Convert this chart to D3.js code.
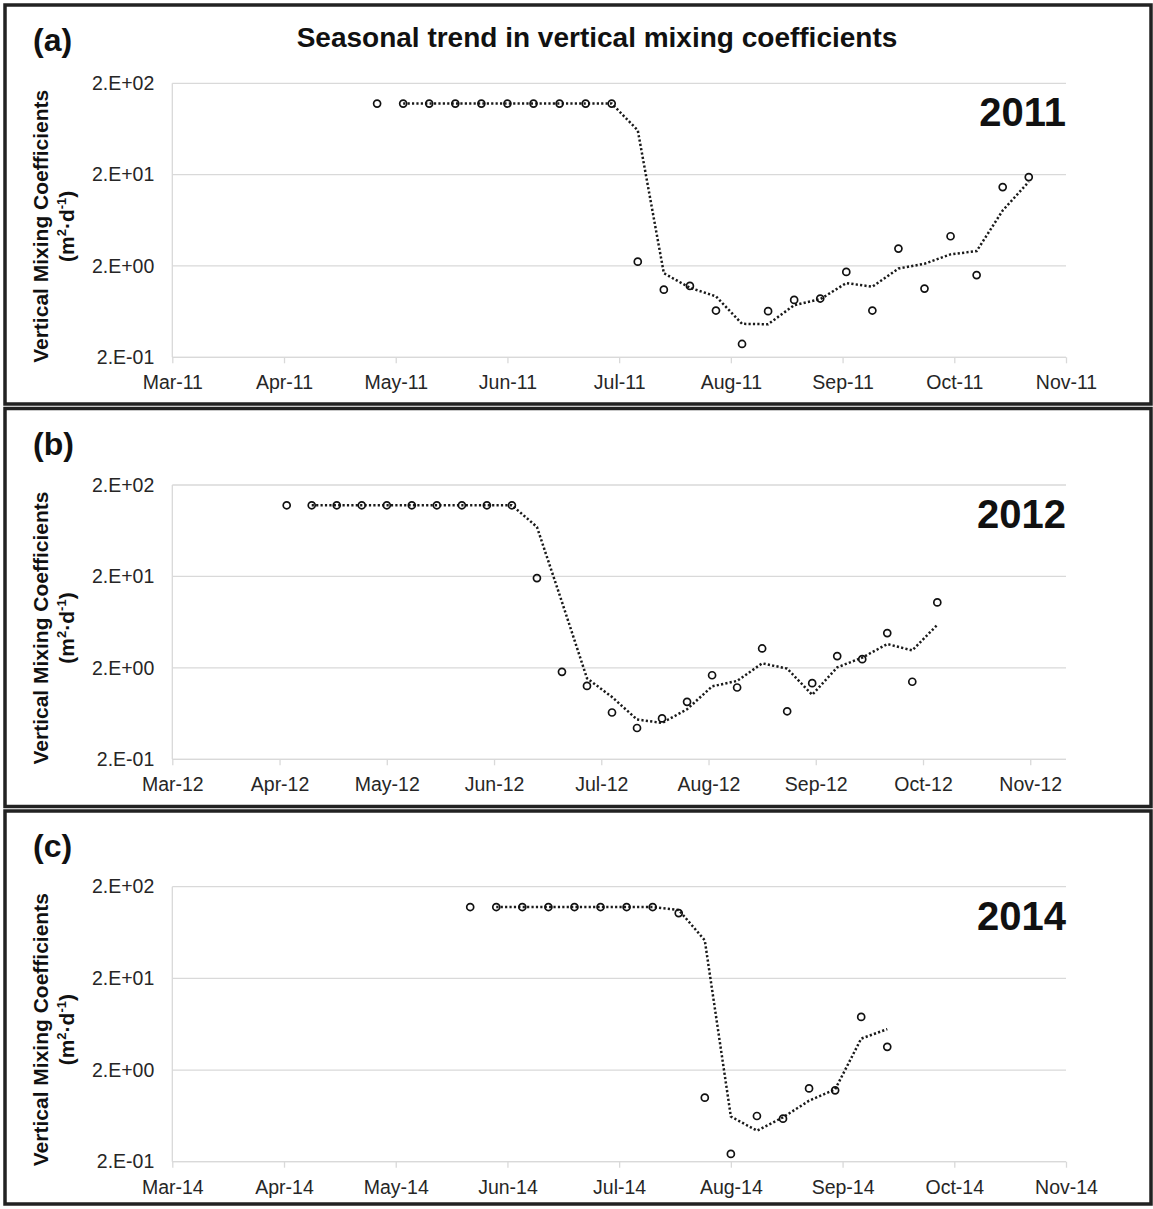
<!DOCTYPE html>
<html>
<head>
<meta charset="utf-8">
<script src="https://cdn.jsdelivr.net/npm/d3@7"></script>
<style>
  html, body { margin: 0; padding: 0; background: #fff; }
  svg { display: block; font-family: "Liberation Sans", Arial, sans-serif; }
</style>
</head>
<body>
<svg id="chart" width="1153" height="1209"></svg>
<script>
// Weekly vertical mixing coefficients (m2/d) for three seasons
const dates2011 = ["2011-04-30","2011-05-07","2011-05-14","2011-05-21","2011-05-28","2011-06-04","2011-06-11","2011-06-18","2011-06-25","2011-07-02","2011-07-09","2011-07-16","2011-07-23","2011-07-30","2011-08-06","2011-08-13","2011-08-20","2011-08-27","2011-09-03","2011-09-10","2011-09-17","2011-09-24","2011-10-01","2011-10-08","2011-10-15","2011-10-22"];
const kz2011 = [120,120,120,120,120,120,120,120,120,120,2.23,1.10,1.21,0.65,0.28,0.64,0.85,0.88,1.72,0.65,3.1,1.13,4.23,1.59,14.6,18.8];

const dates2012 = ["2012-04-07","2012-04-14","2012-04-21","2012-04-28","2012-05-05","2012-05-12","2012-05-19","2012-05-26","2012-06-02","2012-06-09","2012-06-16","2012-06-23","2012-06-30","2012-07-07","2012-07-14","2012-07-21","2012-07-28","2012-08-04","2012-08-11","2012-08-18","2012-08-25","2012-09-01","2012-09-08","2012-09-15","2012-09-22","2012-09-29","2012-10-06"];
const kz2012 = [120,120,120,120,120,120,120,120,120,120,19.2,1.81,1.27,0.65,0.44,0.56,0.85,1.66,1.22,3.26,0.67,1.36,2.69,2.49,4.8,1.41,10.4];

const dates2014 = ["2014-05-25","2014-06-01","2014-06-08","2014-06-15","2014-06-22","2014-06-29","2014-07-06","2014-07-13","2014-07-20","2014-07-27","2014-08-03","2014-08-10","2014-08-17","2014-08-24","2014-08-31","2014-09-07","2014-09-14"];
const kz2014 = [120,120,120,120,120,120,120,120,103,1.0,0.243,0.63,0.59,1.26,1.2,7.6,3.58];

// Date axis: start date, 30-day major unit, labels
const axisStart2011 = "2011-03-06", axisDays2011 = 240;
const axisStart2012 = "2012-03-06", axisDays2012 = 250;
const axisStart2014 = "2014-03-06", axisDays2014 = 240;
const xTickLabels2011 = ["Mar-11","Apr-11","May-11","Jun-11","Jul-11","Aug-11","Sep-11","Oct-11","Nov-11"];
const xTickLabels2012 = ["Mar-12","Apr-12","May-12","Jun-12","Jul-12","Aug-12","Sep-12","Oct-12","Nov-12"];
const xTickLabels2014 = ["Mar-14","Apr-14","May-14","Jun-14","Jul-14","Aug-14","Sep-14","Oct-14","Nov-14"];

const yTickValues = [0.2, 2, 20, 200];
const yTickLabels = ["2.E-01","2.E+00","2.E+01","2.E+02"];

const panelLetters = ["(a)","(b)","(c)"];
const yearLabels = ["2011","2012","2014"];
const chartTitle = "Seasonal trend in vertical mixing coefficients";

const parse = d3.utcParse("%Y-%m-%d");
const svg = d3.select("#chart");

const panels = [
  { dates: dates2011, values: kz2011, start: axisStart2011, days: axisDays2011, xLabels: xTickLabels2011,
    box: [5, 5, 1146, 399], plotTop: 83.3, plotBottom: 357.3 },
  { dates: dates2012, values: kz2012, start: axisStart2012, days: axisDays2012, xLabels: xTickLabels2012,
    box: [5, 408.5, 1146, 398], plotTop: 485, plotBottom: 759.3 },
  { dates: dates2014, values: kz2014, start: axisStart2014, days: axisDays2014, xLabels: xTickLabels2014,
    box: [5, 811, 1146, 393], plotTop: 886.7, plotBottom: 1161.7 }
];

const plotLeft = 172.3, plotRight = 1066;
const gridColor = "#d9d9d9";
const textColor = "#262626";

panels.forEach((p, i) => {
  const g = svg.append("g");

  // panel frame
  g.append("rect")
    .attr("x", p.box[0]).attr("y", p.box[1])
    .attr("width", p.box[2]).attr("height", p.box[3])
    .attr("fill", "none").attr("stroke", "#222").attr("stroke-width", 3.5);

  const d0 = parse(p.start);
  const x = d3.scaleUtc()
    .domain([d0, d3.utcDay.offset(d0, p.days)])
    .range([plotLeft, plotRight]);
  const y = d3.scaleLog()
    .domain([0.2, 200])
    .range([p.plotBottom, p.plotTop]);

  // horizontal gridlines
  g.append("g").selectAll("line").data(yTickValues).join("line")
    .attr("x1", plotLeft).attr("x2", plotRight)
    .attr("y1", d => y(d)).attr("y2", d => y(d))
    .attr("stroke", gridColor).attr("stroke-width", 1.3);

  // left axis line
  g.append("line")
    .attr("x1", plotLeft).attr("x2", plotLeft)
    .attr("y1", y(200)).attr("y2", y(0.2))
    .attr("stroke", gridColor).attr("stroke-width", 1.3);

  // y axis labels
  const yAxis = d3.axisLeft(y).tickValues(yTickValues)
    .tickFormat((d, k) => yTickLabels[k]).tickSize(0).tickPadding(18);
  const ya = g.append("g").attr("transform", `translate(${plotLeft},0)`).call(yAxis);
  ya.select(".domain").remove();
  ya.selectAll("text").attr("fill", textColor).attr("font-size", 19.5)
    .attr("font-family", "Liberation Sans, Arial, sans-serif");

  // x axis: ticks every 30 days
  const xTicks = p.xLabels.map((_, k) => d3.utcDay.offset(d0, 30 * k));
  const xAxis = d3.axisBottom(x).tickValues(xTicks)
    .tickFormat((d, k) => p.xLabels[k]).tickSize(6).tickPadding(12);
  const xa = g.append("g").attr("transform", `translate(0,${y(0.2)})`).call(xAxis);
  xa.select(".domain").attr("stroke", gridColor).attr("stroke-width", 1.3)
    .attr("d", `M${plotLeft},0H${plotRight}`);
  xa.selectAll(".tick line").attr("stroke", gridColor).attr("stroke-width", 1.3);
  xa.selectAll("text").attr("fill", textColor).attr("font-size", 19.5)
    .attr("font-family", "Liberation Sans, Arial, sans-serif");

  // two-period moving average trend line
  const pts = p.dates.map((d, k) => ({ date: parse(d), v: p.values[k] }));
  const ma = pts.slice(1).map((d, k) => ({ date: d.date, v: (pts[k].v + d.v) / 2 }));
  g.append("path")
    .datum(ma)
    .attr("fill", "none")
    .attr("stroke", "#1a1a1a")
    .attr("stroke-width", 2.5)
    .attr("stroke-dasharray", "2.2 2.2")
    .attr("d", d3.line().x(d => x(d.date)).y(d => y(d.v)));

  // observations
  g.append("g").selectAll("circle").data(pts).join("circle")
    .attr("cx", d => x(d.date)).attr("cy", d => y(d.v))
    .attr("r", 3.5)
    .attr("fill", "none").attr("stroke", "#111").attr("stroke-width", 1.7);

  // panel letter
  g.append("text")
    .attr("x", 33).attr("y", p.box[1] + 46)
    .attr("font-size", 32).attr("font-weight", "bold").attr("fill", "#111")
    .text(panelLetters[i]);

  // year label
  g.append("text")
    .attr("x", plotRight).attr("y", p.plotTop + 43)
    .attr("text-anchor", "end")
    .attr("font-size", 40).attr("font-weight", "bold").attr("fill", "#111")
    .text(yearLabels[i]);

  // y axis title (two lines)
  const cy = p.plotTop + 143;
  g.append("text")
    .attr("transform", `translate(48,${cy}) rotate(-90)`)
    .attr("text-anchor", "middle")
    .attr("font-size", 21).attr("font-weight", "bold").attr("fill", "#111")
    .text("Vertical Mixing Coefficients");
  const t2 = g.append("text")
    .attr("transform", `translate(73.5,${cy}) rotate(-90)`)
    .attr("text-anchor", "middle")
    .attr("font-size", 21).attr("font-weight", "bold").attr("fill", "#111");
  t2.append("tspan").text("(m");
  t2.append("tspan").attr("font-size", 13).attr("dy", -8).text("2");
  t2.append("tspan").attr("dy", 8).text("·d");
  t2.append("tspan").attr("font-size", 13).attr("dy", -8).text("-1");
  t2.append("tspan").attr("dy", 8).text(")");
});

// chart title
svg.append("text")
  .attr("x", 597).attr("y", 47)
  .attr("text-anchor", "middle")
  .attr("font-size", 28).attr("font-weight", "bold").attr("fill", "#111")
  .text(chartTitle);
</script>
</body>
</html>
